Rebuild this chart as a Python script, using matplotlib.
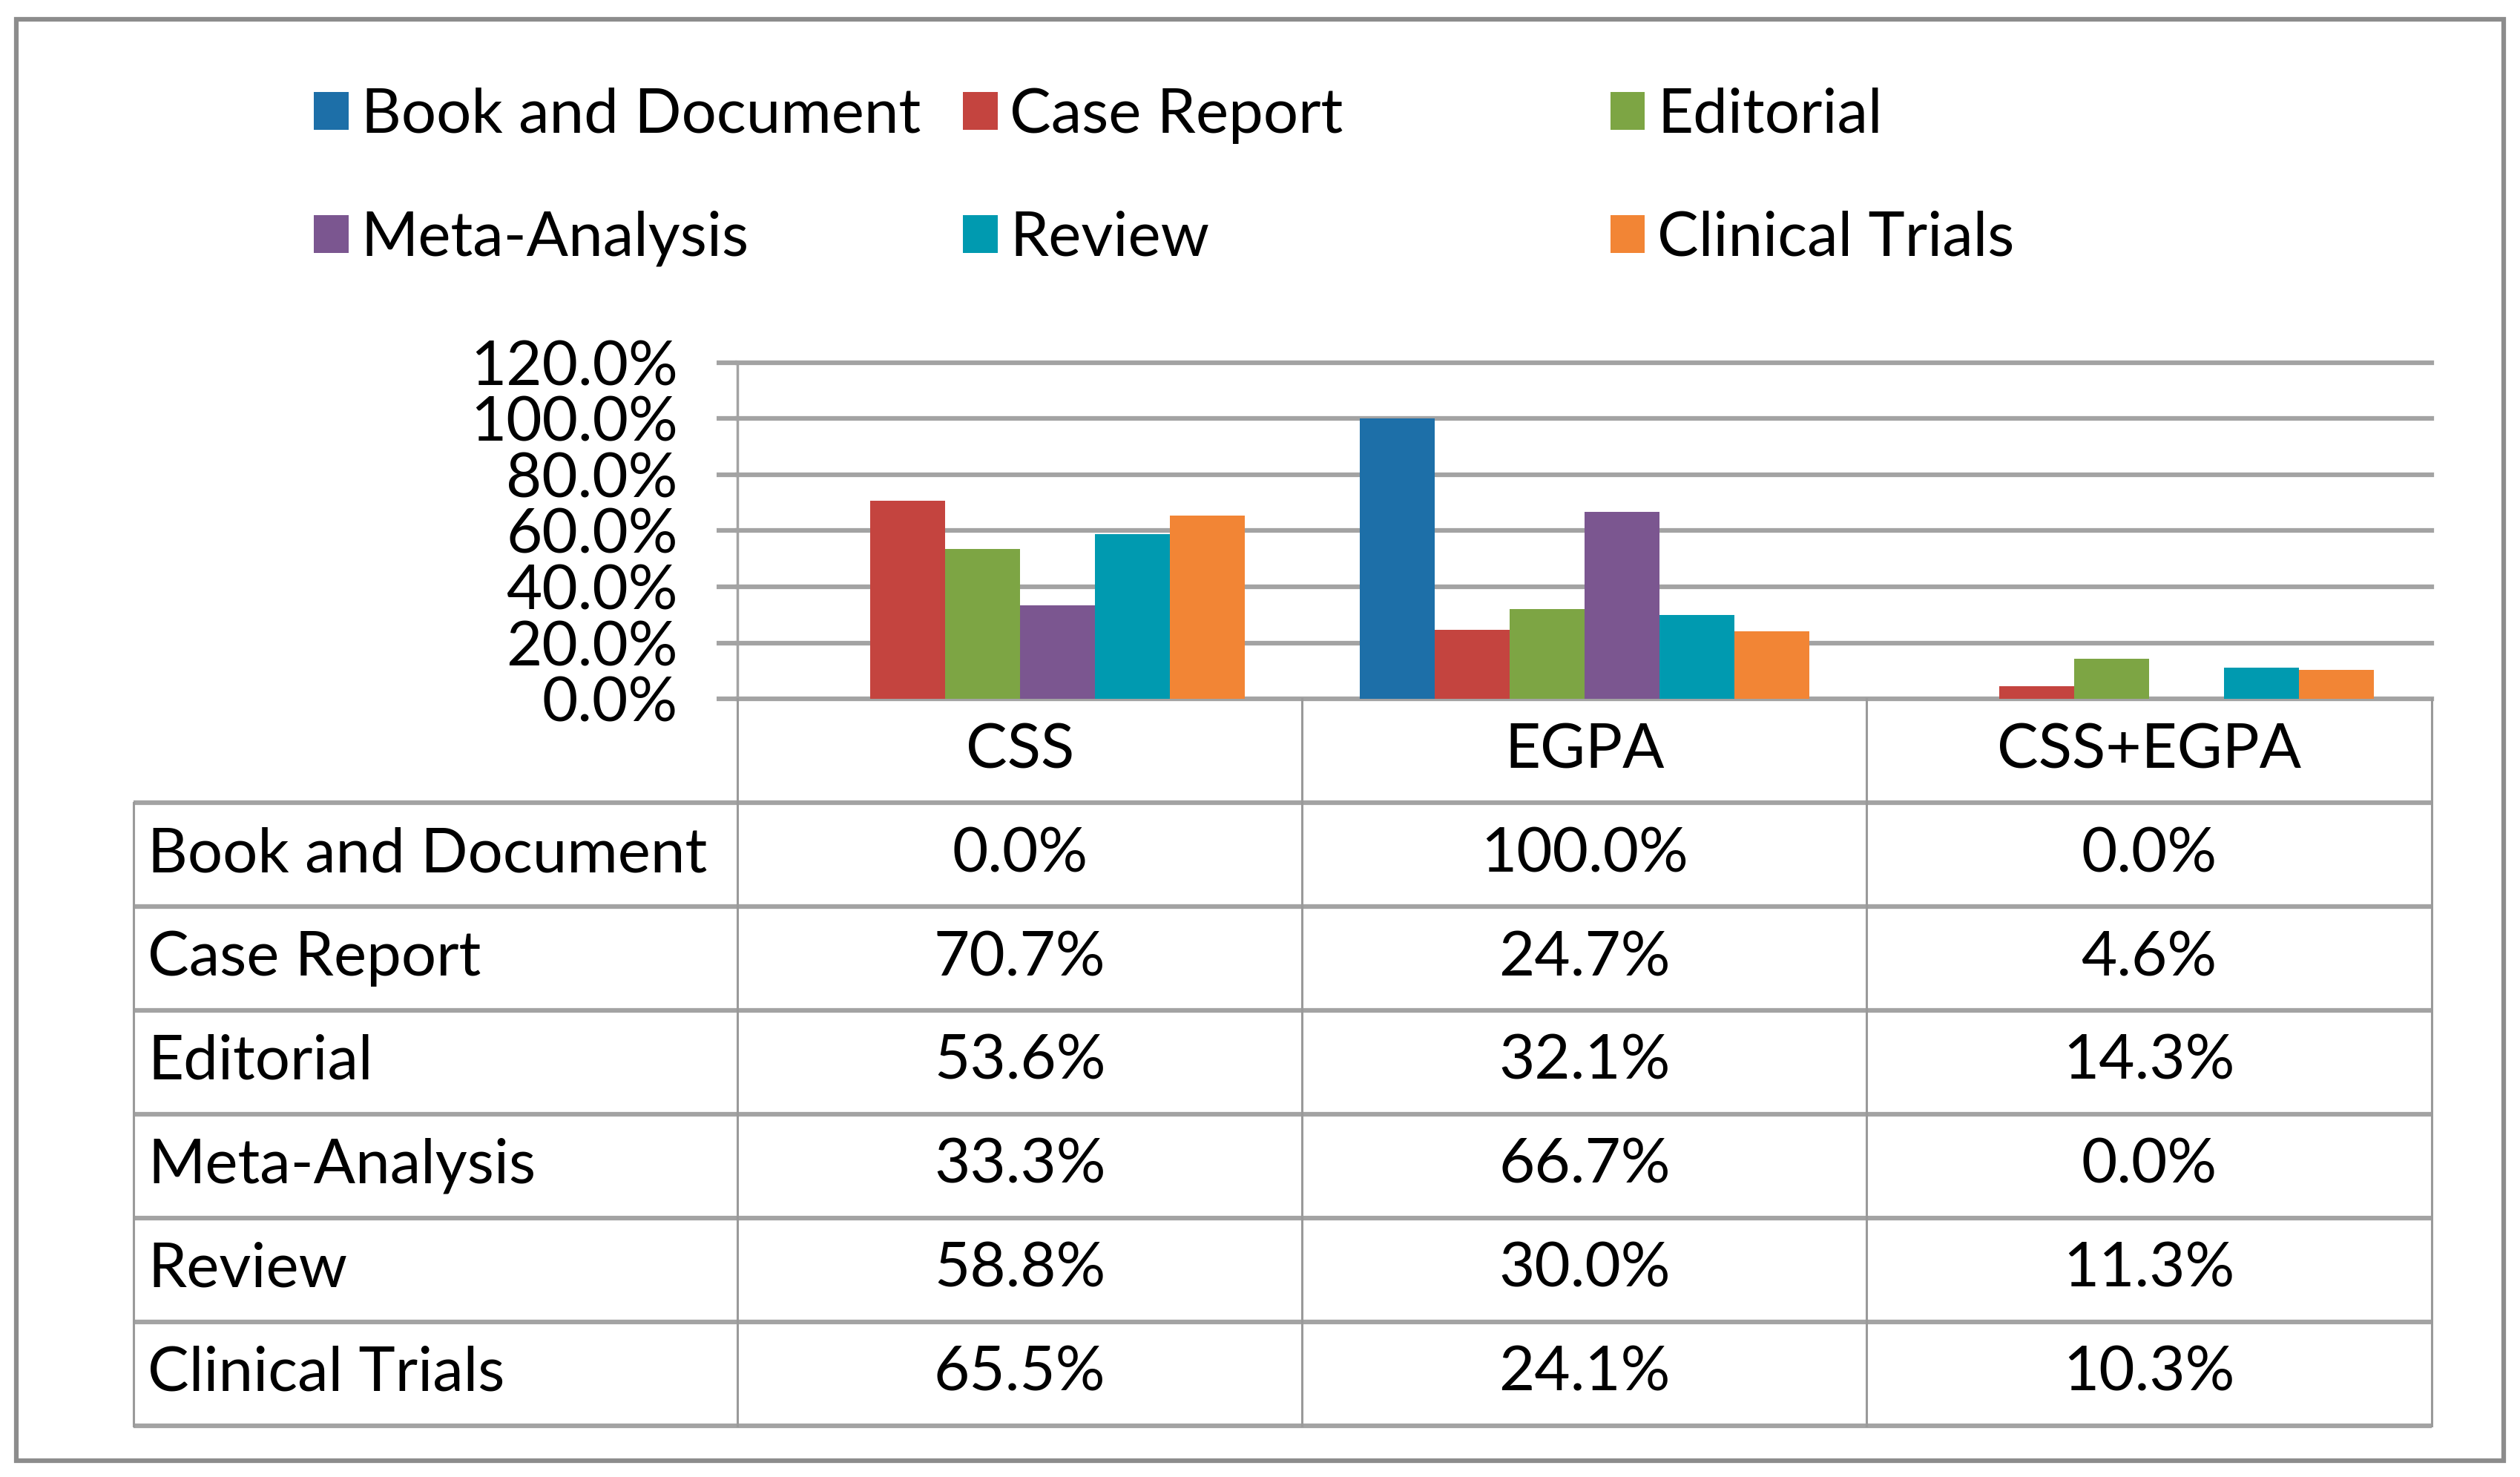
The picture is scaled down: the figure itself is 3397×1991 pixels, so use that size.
import numpy as np
import matplotlib
matplotlib.use("Agg")
import matplotlib.pyplot as plt
from matplotlib.patches import Rectangle

plt.rcParams['font.family'] = ['Lato', 'DejaVu Sans']

categories = ["CSS", "EGPA", "CSS+EGPA"]
series = ["Book and Document", "Case Report", "Editorial",
          "Meta-Analysis", "Review", "Clinical Trials"]
book_doc = [0.0, 100.0, 0.0]
case_report = [70.7, 24.7, 4.6]
editorial = [53.6, 32.1, 14.3]
meta_analysis = [33.3, 66.7, 0.0]
review = [58.8, 30.0, 11.3]
clinical_trials = [65.5, 24.1, 10.3]
yticks = [0, 20, 40, 60, 80, 100, 120]

values = [book_doc, case_report, editorial, meta_analysis, review, clinical_trials]
colors = ["#1d6fa8", "#c4443f", "#7da544", "#7b5690", "#009ab0", "#f28535"]

W, H = 1565.0, 917.0   # layout measured on the reference, in its own pixels
def fx(p): return p / W
def fy(p): return 1 - p / H

fs = 60
grid_c = "#a3a3a3"

fig = plt.figure(figsize=(33.97, 19.91), dpi=100)
fig.patch.set_facecolor("white")

# outer frame
fig.patches.append(Rectangle((fx(10), fy(907)), fx(1555) - fx(10), fy(12) - fy(907),
                             transform=fig.transFigure, fill=False,
                             edgecolor="#8c8c8c", linewidth=4.5))

# bar chart
ax = fig.add_axes([fx(458), fy(434), fx(1510) - fx(458), fy(225) - fy(434)])
x = np.arange(len(categories))
w = 0.1326
bars = []
for i, (name, vals) in enumerate(zip(series, values)):
    b = ax.bar(x + (i - 2.5) * w, np.array(vals) / 100.0, w, color=colors[i], label=name)
    bars.append(b)
ax.set_xlim(-0.5, 2.5)
ax.set_ylim(0, 1.2)
ax.set_yticks(np.array(yticks) / 100.0)
ax.set_yticklabels(["%.1f%%" % t for t in yticks], fontsize=fs)
ax.set_xticks([])
ax.set_axisbelow(True)
ax.yaxis.grid(True, color=grid_c, linewidth=4.5)
for gl in ax.get_ygridlines():
    gl.set_clip_on(False)
ax.tick_params(axis="y", length=20, width=4.5, color=grid_c, pad=38)
for s in ["top", "right", "bottom"]:
    ax.spines[s].set_visible(False)
ax.spines["left"].set_color(grid_c)
ax.spines["left"].set_linewidth(2.5)

# data table under the chart
tx = fig.add_axes([fx(83), fy(885), fx(1510) - fx(83), fy(434) - fy(885)])
lab_w = (458 - 83) / ((1510 - 458) / 3.0)
left = -0.5 - lab_w
tx.set_xlim(left, 2.5)
tx.set_ylim(7, 0)
tx.axis("off")
for r in range(1, 8):
    tx.plot([left, 2.5], [r, r], color=grid_c, linewidth=4.5, clip_on=False,
            solid_capstyle="butt")
for c in [-0.5, 0.5, 1.5, 2.5]:
    tx.plot([c, c], [0, 7], color="#9a9a9a", linewidth=2.2, clip_on=False)
tx.plot([left, left], [1, 7], color="#9a9a9a", linewidth=2.2, clip_on=False)
for j, cat in enumerate(categories):
    tx.text(j, 0.5, cat, ha="center", va="center", fontsize=fs)
for i, (name, vals) in enumerate(zip(series, values)):
    tx.text(left + 0.025, i + 1.5, name, ha="left", va="center", fontsize=fs)
    for j, v in enumerate(vals):
        tx.text(j, i + 1.5, "%.1f%%" % v, ha="center", va="center", fontsize=fs)

# legend: three columns of two entries
for k, xpos in enumerate([195, 598, 1000]):
    hs = [bars[k], bars[k + 3]]
    fig.legend(hs, [series[k], series[k + 3]], loc="center left",
               bbox_to_anchor=(fx(xpos), fy(110)), ncol=1, frameon=False,
               fontsize=fs, handlelength=0.56, handleheight=0.56,
               handletextpad=0.2, labelspacing=1.08, borderpad=0, borderaxespad=0)

fig.savefig("out.png", dpi=100, facecolor="white")
